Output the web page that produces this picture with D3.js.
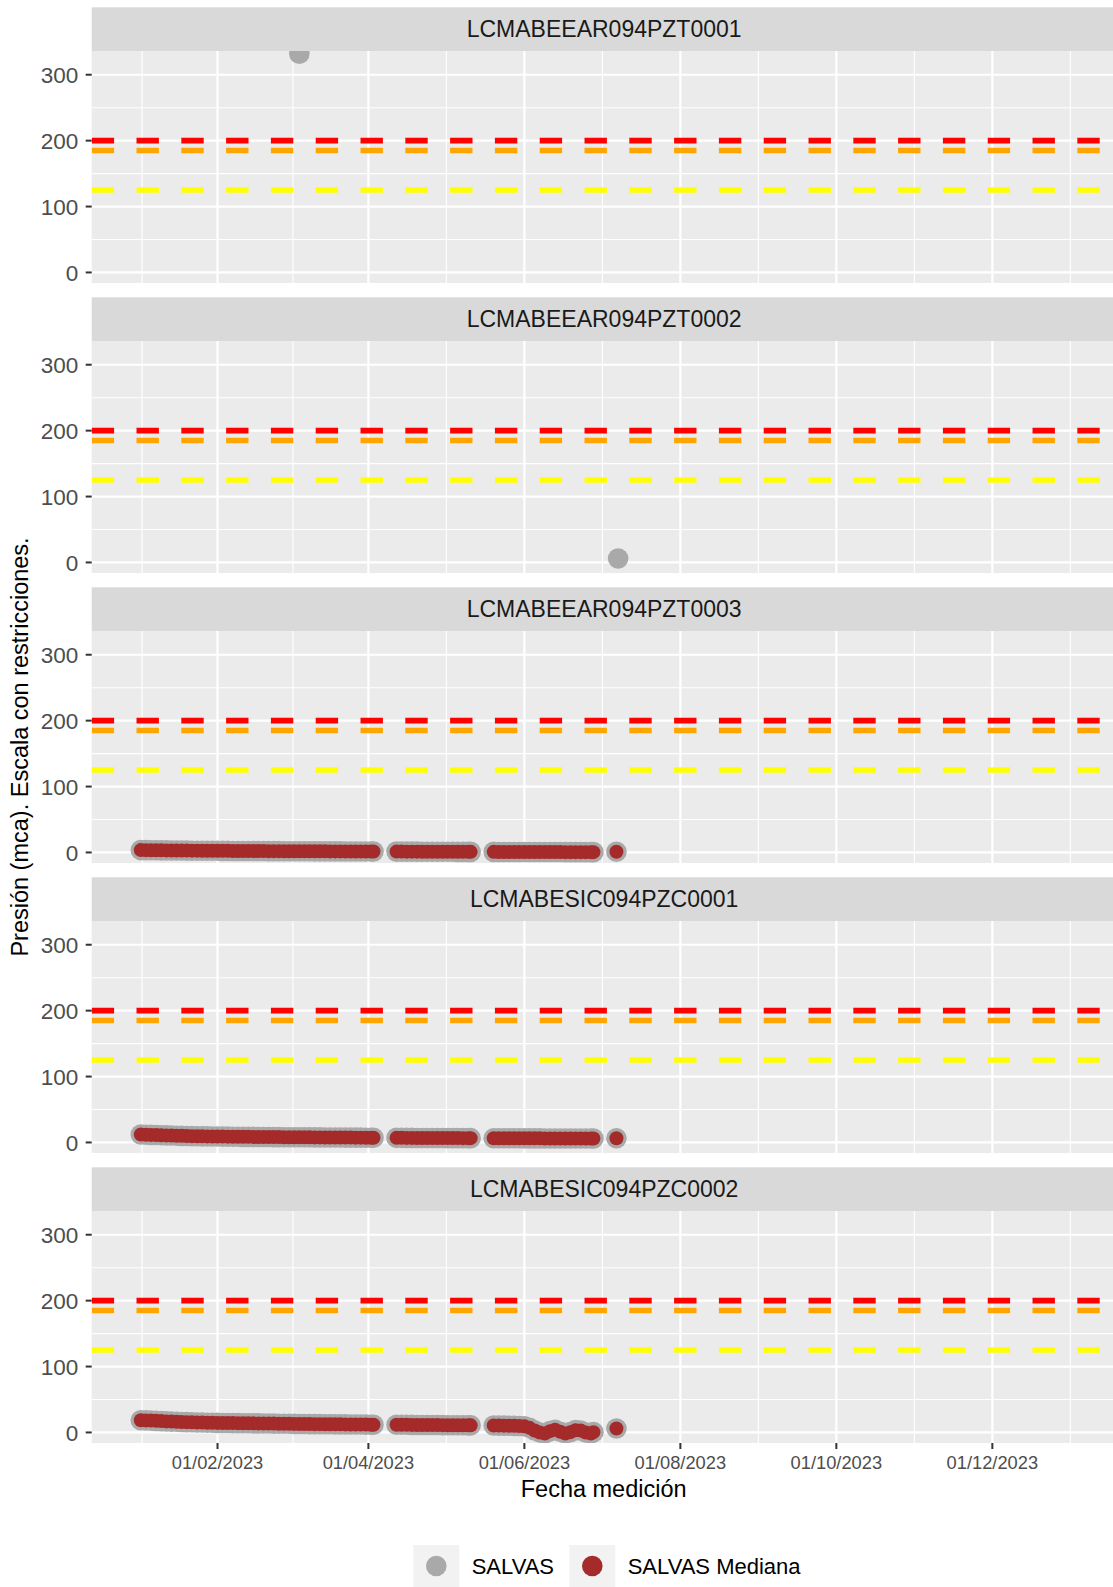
<!DOCTYPE html>
<html>
<head>
<meta charset="utf-8">
<script src="https://cdn.jsdelivr.net/npm/d3@7"></script>
<style>
html,body{margin:0;padding:0;background:#fff;}
svg{display:block;font-family:"Liberation Sans",Arial,Helvetica,sans-serif;}
</style>
</head>
<body>
<svg id="chart" width="1113" height="1587"></svg>
<script>
// ---------------- DATA ----------------
const panelNames = ["LCMABEEAR094PZT0001","LCMABEEAR094PZT0002","LCMABEEAR094PZT0003","LCMABESIC094PZC0001","LCMABESIC094PZC0002"];
const xTickDates = ["2023-02-01","2023-04-01","2023-06-01","2023-08-01","2023-10-01","2023-12-01"];
const yTicks = [0,100,200,300];
const yMinor = [50,150,250];
const thresholdValues = [200,185,125];
const thresholdColors = ["#FF0000","#FFA500","#FFFF00"];
const legendLabels = ["SALVAS","SALVAS Mediana"];

// day of year 2023 for daily medians (shared by the three piezometers with data)
const medianDays = [2,4,6,8,10,12,14,16,18,20,22,24,26,28,30,32,34,36,38,40,42,44,46,48,50,52,54,56,58,60,62,64,66,68,70,72,74,76,78,80,82,84,86,88,90,92,93,
  102,104,106,108,110,112,114,116,118,120,122,124,126,128,130,131,
  140,142,144,146,148,150,152,154,156,158,160,162,164,166,168,170,172,174,176,178,179,
  188];
const medianT0003 = [3.6,3.5,3.4,3.3,3.2,3.1,3.0,2.9,2.9,2.8,2.7,2.7,2.6,2.6,2.5,2.5,2.4,2.4,2.3,2.3,2.2,2.2,2.2,2.1,2.1,2.0,2.0,2.0,1.9,1.9,1.9,1.8,1.8,1.8,1.7,1.7,1.7,1.6,1.6,1.6,1.5,1.5,1.5,1.5,1.4,1.4,1.4,
  1.3,1.3,1.2,1.2,1.2,1.1,1.1,1.1,1.0,1.0,1.0,1.0,0.9,0.9,0.9,0.9,
  0.9,0.8,0.8,0.8,0.8,0.7,0.7,0.7,0.7,0.6,0.6,0.6,0.6,0.6,0.5,0.5,0.5,0.5,0.5,0.5,0.5,
  1.0];
const medianC0001 = [12.0,11.8,11.5,11.2,11.0,10.7,10.5,10.2,10.0,9.8,9.6,9.5,9.3,9.2,9.1,9.0,8.9,8.8,8.7,8.6,8.5,8.5,8.4,8.3,8.3,8.2,8.1,8.1,8.0,8.0,7.9,7.9,7.8,7.8,7.7,7.7,7.6,7.6,7.5,7.5,7.4,7.4,7.3,7.3,7.2,7.2,7.1,
  7.0,7.0,6.9,6.9,6.8,6.8,6.8,6.7,6.7,6.7,6.6,6.6,6.6,6.5,6.5,6.5,
  6.4,6.4,6.4,6.3,6.3,6.3,6.2,6.2,6.2,6.2,6.1,6.1,6.1,6.1,6.0,6.0,6.0,6.0,6.0,5.9,5.9,
  6.3];
const medianC0002 = [18.5,18.3,18.0,17.6,17.2,16.8,16.5,16.2,15.9,15.6,15.4,15.2,15.0,14.8,14.7,14.5,14.4,14.3,14.2,14.1,14.0,13.9,13.8,13.7,13.6,13.5,13.4,13.3,13.2,13.1,13.0,12.9,12.8,12.7,12.6,12.6,12.5,12.4,12.3,12.3,12.2,12.1,12.0,12.0,11.9,11.8,11.8,
  11.7,11.6,11.6,11.5,11.4,11.4,11.3,11.2,11.2,11.1,11.0,11.0,10.9,10.9,10.8,10.8,
  10.6,10.4,10.3,10.1,10.0,9.8,9.5,7.0,3.0,0.0,-1.5,2.0,4.0,1.0,-1.5,0.5,3.5,3.0,0.0,-1.5,0.5,
  6.0];
// raw SALVAS single readings
const rawT0001Dates = ["2023-03-05"];
const rawT0001Values = [332];
const rawT0002Dates = ["2023-07-07T16:00"];
const rawT0002Values = [6];

// ---------------- LAYOUT ----------------
const svg = d3.select("#chart");
const panelLeft = 91.7, panelRight = 1115.6;
const pitch = 290;
const stripTop = 7.3, stripBottom = 51, panelBottom = 283;
const FONT = '"Liberation Sans",Arial,Helvetica,sans-serif';

const parseDay = doy => new Date(2023, 0, doy);
const parseStr = s => new Date(s.length > 10 ? s : s + "T00:00");

const x = d3.scaleTime()
  .domain([new Date(2022, 11, 13, 19, 12), new Date(2024, 0, 18, 4, 48)])
  .range([panelLeft, panelRight]);
const y = d3.scaleLinear().domain([-16, 336]).range([panelBottom, stripBottom]);

svg.append("rect").attr("width",1113).attr("height",1587).attr("fill","#fff");

const majorX = xTickDates.map(parseStr);
const majorXpx = majorX.map(x);
const minorXpx = [];
{
  const first = majorXpx[0] - (majorXpx[1]-majorXpx[0])/2;
  minorXpx.push(first);
  for (let i=0;i<majorXpx.length-1;i++) minorXpx.push((majorXpx[i]+majorXpx[i+1])/2);
  const n = majorXpx.length;
  minorXpx.push(majorXpx[n-1] + (majorXpx[n-1]-majorXpx[n-2])/2);
}

const series = [
  {raw: rawT0001Dates.map((d,i)=>({date:parseStr(d), v:rawT0001Values[i]})), med: []},
  {raw: rawT0002Dates.map((d,i)=>({date:parseStr(d), v:rawT0002Values[i]})), med: []},
  {med: medianDays.map((d,i)=>({date:parseDay(d), v:medianT0003[i]}))},
  {med: medianDays.map((d,i)=>({date:parseDay(d), v:medianC0001[i]}))},
  {med: medianDays.map((d,i)=>({date:parseDay(d), v:medianC0002[i]}))}
];
series.forEach(s => { if (!s.raw) s.raw = s.med; });

panelNames.forEach((name, i) => {
  const g = svg.append("g").attr("transform", `translate(0,${i*pitch})`);
  // strip
  g.append("rect").attr("x",panelLeft).attr("y",stripTop)
    .attr("width",panelRight-panelLeft).attr("height",stripBottom-stripTop).attr("fill","#D9D9D9");
  g.append("text").attr("x",(panelLeft+panelRight)/2 + 0.5).attr("y",(stripTop+stripBottom)/2)
    .attr("dy","0.35em").attr("text-anchor","middle")
    .attr("font-size","23px").attr("fill","#1A1A1A").attr("font-family",FONT).text(name);
  // panel
  g.append("rect").attr("x",panelLeft).attr("y",stripBottom)
    .attr("width",panelRight-panelLeft).attr("height",panelBottom-stripBottom).attr("fill","#EBEBEB");
  const clipId = "clip"+i;
  g.append("clipPath").attr("id",clipId).append("rect").attr("x",panelLeft).attr("y",stripBottom)
    .attr("width",panelRight-panelLeft).attr("height",panelBottom-stripBottom);
  const pg = g.append("g").attr("clip-path",`url(#${clipId})`);
  // grid
  pg.selectAll(".ymin").data(yMinor).join("line")
    .attr("x1",panelLeft).attr("x2",panelRight).attr("y1",d=>y(d)).attr("y2",d=>y(d))
    .attr("stroke","#fff").attr("stroke-width",1.1);
  pg.selectAll(".xmin").data(minorXpx).join("line")
    .attr("x1",d=>d).attr("x2",d=>d).attr("y1",stripBottom).attr("y2",panelBottom)
    .attr("stroke","#fff").attr("stroke-width",1.1);
  pg.selectAll(".ymaj").data(yTicks).join("line")
    .attr("x1",panelLeft).attr("x2",panelRight).attr("y1",d=>y(d)).attr("y2",d=>y(d))
    .attr("stroke","#fff").attr("stroke-width",2.2);
  pg.selectAll(".xmaj").data(majorXpx).join("line")
    .attr("x1",d=>d).attr("x2",d=>d).attr("y1",stripBottom).attr("y2",panelBottom)
    .attr("stroke","#fff").attr("stroke-width",2.2);
  // thresholds
  pg.selectAll(".thr").data(thresholdValues).join("line")
    .attr("x1",panelLeft).attr("x2",panelRight).attr("y1",d=>y(d)).attr("y2",d=>y(d))
    .attr("stroke",(d,k)=>thresholdColors[k]).attr("stroke-width",5.6)
    .attr("stroke-dasharray","22.4 22.4");
  // points
  const s = series[i];
  pg.selectAll(".raw").data(s.raw).join("circle")
    .attr("cx",d=>x(d.date)).attr("cy",d=>y(d.v)).attr("r",10.3).attr("fill","#A9A9A9");
  pg.selectAll(".med").data(s.med).join("circle")
    .attr("cx",d=>x(d.date)).attr("cy",d=>y(d.v)).attr("r",7).attr("fill","#A52A2A");
  // y axis
  const ya = g.append("g");
  yTicks.forEach(t => {
    ya.append("line").attr("x1",panelLeft-6).attr("x2",panelLeft).attr("y1",y(t)).attr("y2",y(t))
      .attr("stroke","#333333").attr("stroke-width",2);
    ya.append("text").attr("x",panelLeft-13.5).attr("y",y(t)).attr("dy","0.36em")
      .attr("text-anchor","end").attr("font-size","22.5px").attr("fill","#4D4D4D")
      .attr("font-family",FONT).text(t);
  });
});

// x axis (bottom panel only)
const bottomY = 4*pitch + panelBottom;
const fmt = d3.timeFormat("%d/%m/%Y");
const xa = svg.append("g");
majorX.forEach(d => {
  xa.append("line").attr("x1",x(d)).attr("x2",x(d)).attr("y1",bottomY).attr("y2",bottomY+6)
    .attr("stroke","#333333").attr("stroke-width",2);
  xa.append("text").attr("x",x(d)).attr("y",1469).attr("text-anchor","middle")
    .attr("font-size","18.3px").attr("fill","#4D4D4D").attr("font-family",FONT).text(fmt(d));
});

// axis titles
svg.append("text").attr("x",(panelLeft+panelRight)/2).attr("y",1497).attr("text-anchor","middle")
  .attr("font-size","23.5px").attr("fill","#000").attr("font-family",FONT).text("Fecha medición");
svg.append("text").attr("transform","translate(28,747) rotate(-90)").attr("text-anchor","middle")
  .attr("font-size","23.5px").attr("fill","#000").attr("font-family",FONT)
  .text("Presión (mca). Escala con restricciones.");

// legend
const legendColors = ["#A9A9A9","#A52A2A"];
const keyX = [413.3, 569.3], textX = [471.7, 627.7];
legendLabels.forEach((lab, k) => {
  svg.append("rect").attr("x",keyX[k]).attr("y",1545).attr("width",46).attr("height",42).attr("fill","#F2F2F2");
  svg.append("circle").attr("cx",keyX[k]+23).attr("cy",1566).attr("r",10.3).attr("fill",legendColors[k]);
  svg.append("text").attr("x",textX[k]).attr("y",1566).attr("dy","0.36em")
    .attr("font-size","22px").attr("fill","#000").attr("font-family",FONT).text(lab);
});
</script>
</body>
</html>
